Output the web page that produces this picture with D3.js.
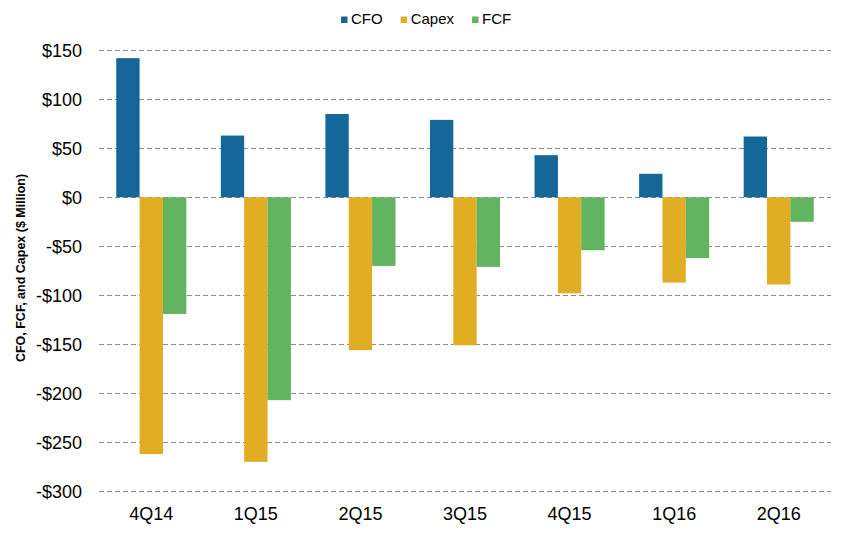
<!DOCTYPE html>
<html>
<head>
<meta charset="utf-8">
<title>CFO, FCF and Capex</title>
<script src="https://d3js.org/d3.v7.min.js"></script>
<style>
  body { margin: 0; background: #fff; }
  text { font-family: "Liberation Sans", Arial, sans-serif; fill: #000; }
  .grid line { stroke: #8c8c8c; stroke-width: 1; stroke-dasharray: 5,3; }
</style>
</head>
<body>
<div id="chart"></div>
<script>
// data
var quarters = ['4Q14', '1Q15', '2Q15', '3Q15', '4Q15', '1Q16', '2Q16'];
var seriesNames = ['CFO', 'Capex', 'FCF'];
var cfo   = [142, 63, 85, 79, 43, 24, 62];
var capex = [-262, -270, -156, -151, -98, -87, -89];
var fcf   = [-119, -207, -70, -71, -54, -62, -25];
var yTicks = [150, 100, 50, 0, -50, -100, -150, -200, -250, -300];

var colors = { CFO: '#15679a', Capex: '#e1ad23', FCF: '#62b460' };
var values = { CFO: cfo, Capex: capex, FCF: fcf };

var width = 844, height = 536;
var plotLeft = 99, plotRight = 831, plotTop = 50.3, plotBottom = 491.3;

var svg = d3.select('#chart').append('svg')
    .attr('width', width)
    .attr('height', height);

var y = d3.scaleLinear()
    .domain([-300, 150])
    .range([plotBottom, plotTop]);

var x0 = d3.scaleBand()
    .domain(quarters)
    .range([plotLeft, plotRight])
    .padding(0);

var x1 = d3.scaleBand()
    .domain(seriesNames)
    .range([x0.bandwidth() * 0.165, x0.bandwidth() * 0.835])
    .padding(0);

// gridlines
svg.append('g')
    .attr('class', 'grid')
  .selectAll('line')
    .data(yTicks)
  .enter().append('line')
    .attr('x1', plotLeft)
    .attr('x2', plotRight)
    .attr('y1', function(d) { return Math.round(y(d)) + 0.5; })
    .attr('y2', function(d) { return Math.round(y(d)) + 0.5; });

// y tick labels
var yAxis = d3.axisLeft(y)
    .tickValues(yTicks)
    .tickSize(0)
    .tickPadding(0)
    .tickFormat(function(d) { return (d < 0 ? '-$' : '$') + Math.abs(d); });

var ya = svg.append('g')
    .attr('transform', 'translate(82,0)')
    .call(yAxis);
ya.select('.domain').remove();
ya.selectAll('text')
    .style('font-size', '18px')
    .attr('dy', '0.35em')
    .attr('fill', '#000');

// x labels
var xAxis = d3.axisBottom(x0).tickSize(0).tickPadding(0);
var xa = svg.append('g')
    .attr('transform', 'translate(0,507)')
    .call(xAxis);
xa.select('.domain').remove();
xa.selectAll('text')
    .style('font-size', '18px')
    .attr('dy', '0.71em')
    .attr('fill', '#000');

// bars
var groups = svg.append('g')
  .selectAll('g')
    .data(quarters)
  .enter().append('g')
    .attr('transform', function(d) { return 'translate(' + x0(d) + ',0)'; });

groups.selectAll('rect')
    .data(function(q, i) {
      return seriesNames.map(function(s) { return { key: s, value: values[s][i] }; });
    })
  .enter().append('rect')
    .attr('x', function(d) { return x1(d.key); })
    .attr('width', x1.bandwidth())
    .attr('y', function(d) { return y(Math.max(0, d.value)); })
    .attr('height', function(d) { return Math.abs(y(d.value) - y(0)); })
    .attr('fill', function(d) { return colors[d.key]; });

// y axis title
svg.append('text')
    .attr('transform', 'translate(25,268) rotate(-90)')
    .attr('text-anchor', 'middle')
    .style('font-size', '12.5px')
    .style('font-weight', 'bold')
    .text('CFO, FCF, and Capex ($ Million)');

// legend
var legend = svg.append('g').attr('transform', 'translate(341,0)');
var lx = 0;
seriesNames.forEach(function(s) {
  legend.append('rect')
      .attr('x', lx)
      .attr('y', 16.5)
      .attr('width', 6.5)
      .attr('height', 6.5)
      .attr('fill', colors[s]);
  var t = legend.append('text')
      .attr('x', lx + 10)
      .attr('y', 24)
      .style('font-size', '15px')
      .text(s);
  lx += 10 + t.node().getComputedTextLength() + 18;
});
</script>
</body>
</html>
